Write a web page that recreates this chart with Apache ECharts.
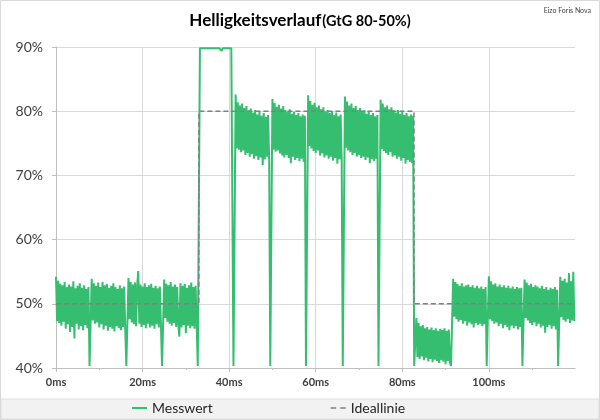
<!DOCTYPE html>
<html>
<head>
<meta charset="utf-8">
<script src="https://cdn.jsdelivr.net/npm/echarts@6/dist/echarts.min.js"></script>
<style>html,body{margin:0;padding:0;background:#fff}#chart{width:600px;height:420px}</style>
</head>
<body>
<div id="chart"></div>
<script>
// Sampling interval of the measurement (ms per sample)
const SAMPLE_MS = 0.25;

// Phase 1: 0 – 33 ms (50 % level, with periodic backlight dips)
const phaseStart = [
  54.2,47.3,53.6,47.0,53.1,46.6,52.9,47.2,53.4,46.1,52.6,46.8,53.0,45.6,52.7,46.4,53.5,44.6,52.4,46.9,52.8,46.0,53.2,46.5,52.5,45.9,52.9,46.7,52.3,46.2,52.6,
  40.3,40.3,
  53.9,47.4,53.2,46.9,52.8,47.1,53.3,46.3,52.6,46.8,53.4,46.0,52.9,46.6,53.1,45.8,52.5,46.4,52.8,46.1,53.2,45.7,52.6,46.5,52.3,46.2,52.9,45.9,52.4,46.4,52.7,46.0,
  40.3,40.3,
  54.0,47.6,53.4,47.1,53.0,46.8,53.3,46.5,52.8,55.1,46.9,53.0,46.4,52.7,46.7,53.2,46.2,52.6,46.9,52.9,46.3,53.1,46.6,52.5,46.1,52.8,46.8,52.4,46.3,52.7,46.5,
  40.3,40.3,
  53.8,47.8,53.1,47.2,52.9,46.9,53.4,46.6,52.7,47.0,53.0,46.4,52.6,46.8,44.9,53.2,46.3,52.8,46.7,53.1,45.4,52.5,46.6,52.9,46.2,53.3,46.5,52.6,46.1,52.8,46.7,
  40.3,40.3
];

// Phase 2: overshoot, saturated near 90 %
const phaseOvershoot = [
  89.8,89.8,89.8,89.8,89.8,89.8,89.8,89.8,89.8,89.8,89.8,89.8,89.8,89.8,89.8,89.8,
  89.8,89.8,89.8,89.8,89.4,89.8,89.8,89.8,89.8,89.8,89.8,89.8,89.8,89.8,89.8,
  40.3,40.3
];

// Phase 3: 80 % target level
const phaseHigh = [
  82.6,74.2,81.4,74.0,80.9,73.6,81.2,73.9,80.5,73.2,80.8,73.5,80.1,72.9,80.4,73.3,79.8,72.6,80.2,73.0,79.5,72.4,79.9,72.8,79.3,71.6,79.7,72.5,79.1,72.9,79.4,72.3,
  40.3,40.3,
  81.9,74.0,81.3,73.7,80.7,73.9,81.0,73.4,80.4,73.1,80.8,72.8,80.2,73.2,79.9,72.7,80.3,71.9,79.6,72.9,79.9,72.4,79.4,72.7,79.7,72.2,79.2,72.6,79.5,72.1,79.3,
  40.3,40.3,
  82.5,74.6,81.6,74.2,81.0,73.8,81.3,73.5,80.6,73.9,80.9,73.1,80.3,73.4,80.6,72.8,80.0,73.1,80.2,72.6,79.7,72.9,80.0,72.3,79.4,72.7,79.8,71.8,79.2,72.5,79.5,72.2,
  40.3,40.3,
  82.3,74.3,81.5,73.9,80.9,73.6,81.2,73.2,80.5,73.5,80.8,72.9,80.2,73.2,80.5,72.7,79.9,72.9,80.2,72.4,79.6,72.8,79.9,71.9,79.4,72.5,79.7,72.2,79.2,72.6,79.4,
  40.3,40.3,
  81.8,74.1,81.2,73.8,80.6,73.5,80.9,73.2,80.3,73.6,80.6,72.9,80.1,73.1,79.8,72.6,80.2,72.9,79.6,72.3,79.9,72.7,79.4,71.8,79.7,72.4,79.2,72.1,79.5,71.9,79.3,
  40.3,40.3
];

// Phase 4: undershoot after falling edge
const phaseUndershoot = [
  47.8,41.7,47.0,41.4,46.5,41.8,46.7,41.2,46.2,41.6,46.4,41.0,46.0,41.4,46.3,40.9,45.9,41.3,46.2,41.1,45.8,40.8,46.1,41.2,45.9,41.0,46.2,40.6,45.8,41.1,46.0,40.9,
  40.3,40.3
];

// Phase 5: back to 50 %
const phaseEnd = [
  53.9,48.0,53.4,47.6,53.1,47.2,52.8,47.5,53.2,46.9,52.7,47.3,52.9,46.6,53.0,47.1,52.6,46.8,52.9,46.3,52.5,47.0,52.8,46.7,52.4,46.9,52.7,46.5,52.3,46.8,52.6,
  40.3,40.3,
  54.3,47.6,53.5,47.3,53.0,46.9,53.2,47.1,52.7,46.5,53.0,46.9,52.6,46.2,52.9,46.7,52.5,46.4,52.8,45.9,52.4,46.6,52.7,46.2,52.3,46.5,52.6,46.0,52.4,46.4,52.5,
  40.3,40.3,
  53.8,47.8,53.3,47.4,52.9,47.0,53.1,46.7,52.6,47.1,52.9,46.5,52.7,46.9,52.4,46.3,52.8,46.6,52.3,45.5,52.6,46.4,52.2,46.7,52.5,46.1,52.3,46.5,52.6,46.0,52.2,
  40.3,40.3,
  54.2,47.9,53.6,47.5,53.9,47.2,53.3,47.6,54.8,47.0,53.5,47.4,55.0,47.3
];

// Ideal step response
const idealTimes  = [0, 33.0, 33.0, 82.7, 82.7, 119.9];
const idealValues = [50, 50, 80, 80, 50, 50];

// Axis ticks
const xTicks = [0, 20, 40, 60, 80, 100];
const X_MAX = 119.9;

const messwert = [].concat(phaseStart, phaseOvershoot, phaseHigh, phaseUndershoot, phaseEnd);
const messData = messwert.map((v, i) => [i * SAMPLE_MS, v]);
const idealData = idealTimes.map((t, i) => [t, idealValues[i]]);

const GREEN = '#35be70';
const GRAY = '#808080';
const FONT = 'Lato, "Open Sans", sans-serif';
const chart = echarts.init(document.getElementById('chart'), null, {renderer: 'canvas'});
chart.setOption({
  animation: false,
  backgroundColor: '#ffffff',
  textStyle: {fontFamily: FONT},
  graphic: [
    {type: 'rect', z: 0, silent: true, shape: {x: 1, y: 399, width: 598, height: 20}, style: {fill: '#f2f2f2', stroke: '#e0e0e0', lineWidth: 1}},
    {type: 'rect', z: 0, silent: true, shape: {x: 0.5, y: 0.5, width: 599, height: 419}, style: {fill: 'none', stroke: '#d9d9d9', lineWidth: 1}}
  ],
  title: [
    {
      text: '{a|Helligkeitsverlauf}{b|(GtG 80-50%)}',
      left: 'center', top: 2,
      textStyle: {
        rich: {
          a: {fontFamily: FONT, fontSize: 17, fontWeight: 'bold', color: '#000', verticalAlign: 'bottom', lineHeight: 22},
          b: {fontFamily: FONT, fontSize: 14.5, fontWeight: 'bold', color: '#000', verticalAlign: 'bottom', lineHeight: 22, padding: [0, 0, 0, 1]}
        }
      }
    },
    {
      text: 'Eizo Foris Nova', right: 4, top: 2,
      textStyle: {fontFamily: FONT, fontSize: 7, fontWeight: 'normal', color: '#404040'}
    }
  ],
  legend: {
    data: [
      {name: 'Messwert', icon: 'rect'},
      {name: 'Ideallinie', icon: 'path://M0,0h4v1h-4z M7,0h4v1h-4z'}
    ],
    left: 132, top: 401, padding: 0,
    itemWidth: 15, itemHeight: 2, itemGap: 118,
    textStyle: {fontFamily: FONT, fontSize: 14, color: '#262626'}
  },
  grid: {left: 56, right: 25, top: 47, bottom: 52, containLabel: false},
  xAxis: {
    type: 'value', min: 0, max: X_MAX, interval: 20,
    axisLine: {show: true, lineStyle: {color: '#bfbfbf', width: 1}},
    axisTick: {show: true, length: 4, customValues: xTicks, lineStyle: {color: '#bfbfbf'}},
    minorTick: {show: true, splitNumber: 2, length: 2, lineStyle: {color: '#bfbfbf'}},
    axisLabel: {
      customValues: xTicks, margin: 9,
      fontFamily: FONT, fontSize: 11, fontWeight: 'bold', color: '#404040',
      formatter: v => v + 'ms'
    },
    splitLine: {show: true, lineStyle: {color: ['#d9d9d9','#d9d9d9','#d9d9d9','#d9d9d9','#d9d9d9','#d9d9d9','rgba(0,0,0,0)'], width: 1}}
  },
  yAxis: {
    type: 'value', min: 40, max: 90, interval: 10,
    axisLine: {show: true, lineStyle: {color: '#bfbfbf', width: 1}},
    axisTick: {show: true, length: 4, lineStyle: {color: '#bfbfbf'}},
    axisLabel: {margin: 13, fontFamily: FONT, fontSize: 14, color: '#404040', formatter: '{value}%'},
    splitLine: {show: true, lineStyle: {color: '#d9d9d9', width: 1}}
  },
  series: [
    {
      name: 'Messwert', type: 'line', data: messData,
      symbol: 'none', showSymbol: false,
      lineStyle: {color: GREEN, width: 2, join: 'bevel'},
      itemStyle: {color: GREEN},
      z: 2
    },
    {
      name: 'Ideallinie', type: 'line', data: idealData,
      symbol: 'none', showSymbol: false,
      lineStyle: {color: GRAY, width: 1.5, type: [5, 3]},
      itemStyle: {color: GRAY},
      z: 3
    }
  ]
});
</script>
</body>
</html>
